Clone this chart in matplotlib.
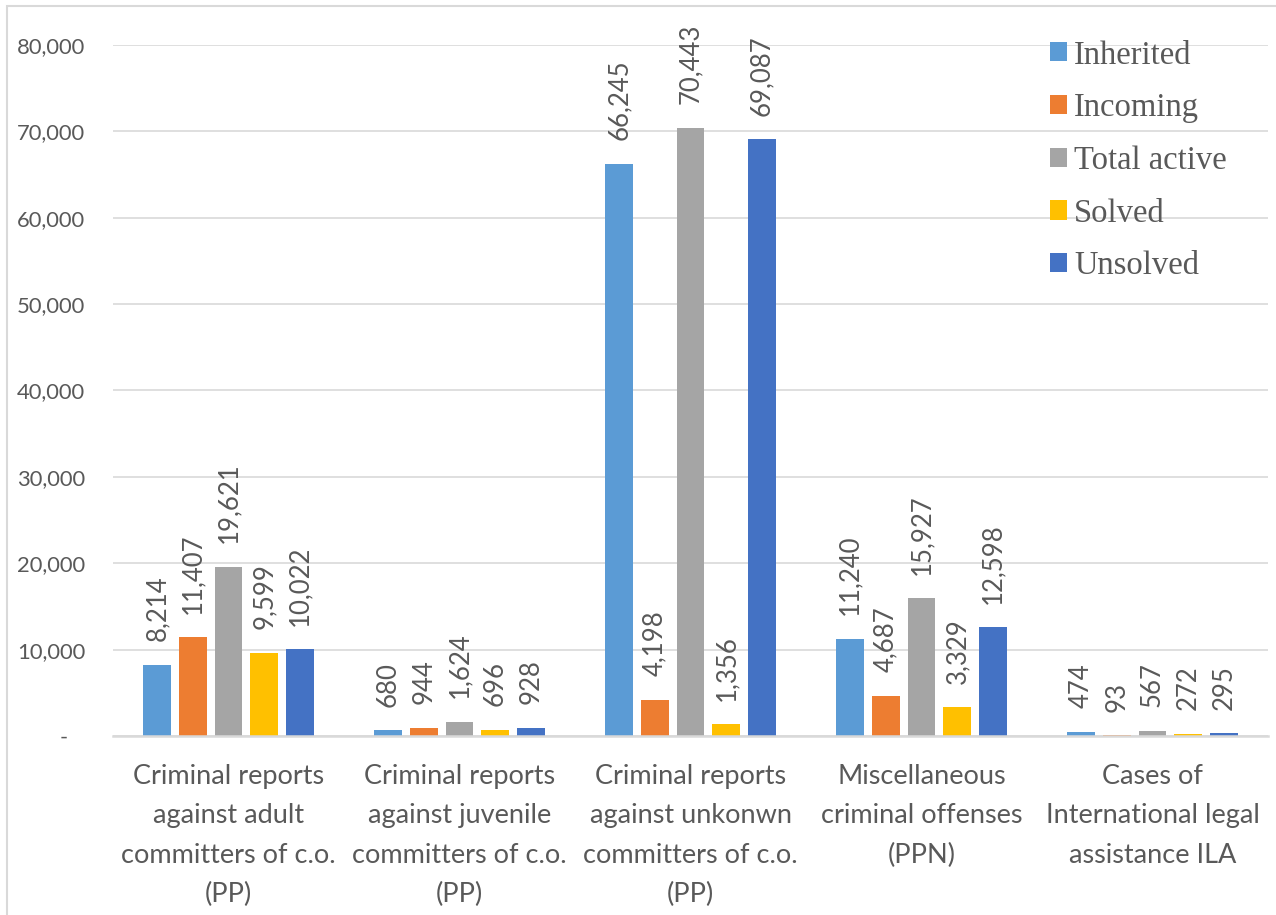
import numpy as np
import matplotlib
matplotlib.use("Agg")
import matplotlib.pyplot as plt
from matplotlib.patches import Rectangle

categories = [
    "Criminal reports\nagainst adult\ncommitters of c.o.\n(PP)",
    "Criminal reports\nagainst juvenile\ncommitters of c.o.\n(PP)",
    "Criminal reports\nagainst unkonwn\ncommitters of c.o.\n(PP)",
    "Miscellaneous\ncriminal offenses\n(PPN)",
    "Cases of\nInternational legal\nassistance ILA",
]
series_names = ["Inherited", "Incoming", "Total active", "Solved", "Unsolved"]
inherited = [8214, 680, 66245, 11240, 474]
incoming = [11407, 944, 4198, 4687, 93]
total_active = [19621, 1624, 70443, 15927, 567]
solved = [9599, 696, 1356, 3329, 272]
unsolved = [10022, 928, 69087, 12598, 295]
colors = ["#5B9BD5", "#ED7D31", "#A5A5A5", "#FFC000", "#4472C4"]
yticks = [0, 10000, 20000, 30000, 40000, 50000, 60000, 70000, 80000]

values = [inherited, incoming, total_active, solved, unsolved]
text_color = "#595959"
grid_color = "#D9D9D9"
sans = ["Lato", "DejaVu Sans"]

fig = plt.figure(figsize=(12.76, 9.15), dpi=100)
ax = fig.add_axes([113 / 1276, 1 - 736 / 915, (1268 - 113) / 1276, (736 - 45) / 915])

x = np.arange(len(categories))
step = 0.1545
width = 0.121
for i, (name, vals, c) in enumerate(zip(series_names, values, colors)):
    pos = x + (i - 2) * step
    bars = ax.bar(pos, vals, width, color=c, label=name, zorder=3)
    for b, v in zip(bars, vals):
        ax.annotate(f"{v:,}", (b.get_x() + b.get_width() / 2, v),
                    xytext=(0, 17), textcoords="offset points",
                    rotation=90, ha="center", va="bottom",
                    fontsize=18.5, color=text_color, family=sans)

ax.set_xlim(-0.5, len(categories) - 0.5)
ax.set_ylim(0, 80000)
ax.set_yticks(yticks)
ax.set_yticklabels(["-   " if t == 0 else f"{t:,}" for t in yticks],
                   fontsize=15.8, color=text_color, family=sans)
ax.set_xticks(x)
ax.set_xticklabels(categories, fontsize=19.5, color=text_color, family=sans,
                   linespacing=1.72)
ax.tick_params(axis="y", length=0, pad=20)
ax.tick_params(axis="x", length=0, pad=20)
ax.yaxis.grid(True, color=grid_color, linewidth=1.2, zorder=0)
for s in ["top", "right", "left"]:
    ax.spines[s].set_visible(False)
ax.spines["bottom"].set_color(grid_color)
ax.spines["bottom"].set_linewidth(1.8)
ax.spines["bottom"].set_zorder(4)

leg = fig.legend(loc="upper left", bbox_to_anchor=(1050 / 1276, 1 - 40 / 915),
                 frameon=False, borderpad=0, borderaxespad=0,
                 handlelength=0.52, handleheight=0.52, handletextpad=0.22,
                 labelspacing=0.68,
                 prop={"family": ["Liberation Serif", "DejaVu Serif"], "size": 23.5})
for t in leg.get_texts():
    t.set_color(text_color)

fig.add_artist(Rectangle((7 / 1276, -0.1), 1.2, 1.1 - 6 / 915,
                         transform=fig.transFigure, fill=False,
                         edgecolor=grid_color, linewidth=1.5))

fig.savefig("out.png", dpi=100)
